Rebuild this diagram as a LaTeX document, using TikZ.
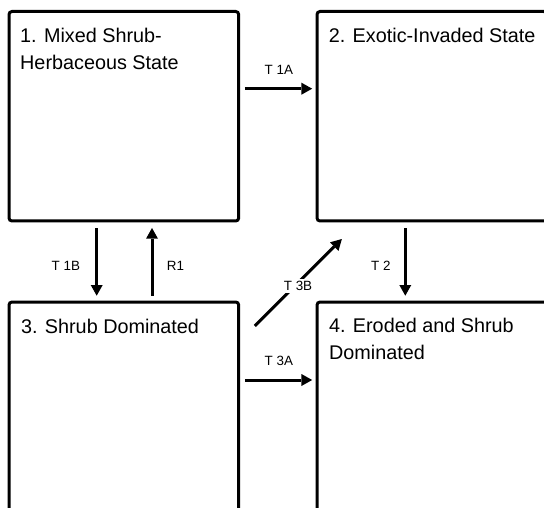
\documentclass[tikz,border=0pt]{standalone}
\usepackage{fontspec}
\setmainfont{Liberation Sans}
\usetikzlibrary{arrows.meta}
\begin{document}
\begin{tikzpicture}[x=1pt,y=-1pt,
  statebox/.style={draw, line width=3pt, rounded corners=3pt, minimum width=229.7pt, minimum height=209.5pt, inner sep=0pt},
  title/.style={anchor=base west, align=left, inner sep=0pt, font=\fontsize{19.8}{26.6}\selectfont},
  lbl/.style={inner sep=0pt, font=\fontsize{13.4}{16}\selectfont},
  arr/.style={line width=3pt, -{Triangle[length=10.7pt,width=12pt,line width=0pt]}}]
\useasboundingbox (0,0) rectangle (544,508);
\begin{scope}
\clip (0,0) rectangle (544,508);
\node[statebox] (b1) at (123.85,116.25) {};
\node[statebox] (b2) at (431.85,116.25) {};
\node[statebox] (b3) at (123.85,406.75) {};
\node[statebox] (b4) at (431.85,406.75) {};
\end{scope}
\node[title] (t1) at (20,69.3) {1. Mixed Shrub-\\Herbaceous State};
\node[title] (t2) at (328.7,42.7) {2. Exotic-Invaded State};
\node[title] (t3) at (20.9,333) {3. Shrub Dominated};
\node[title] (t4) at (328.9,359.3) {4. Eroded and Shrub\\Dominated};
\coordinate (row1) at (0,88.7);
\coordinate (row2) at (0,380);
\coordinate (colA) at (96.7,0);
\coordinate (colB) at (152,0);
\coordinate (colC) at (405.3,0);
\draw[arr, shorten <=4.65pt, shorten >=3.35pt] (b1.east |- row1) -- (b2.west |- row1);
\draw[arr, shorten <=4.65pt, shorten >=3.35pt] (b3.east |- row2) -- (b4.west |- row2);
\draw[arr, shorten <=5.8pt, shorten >=4.8pt] (b1.south -| colA) -- (b3.north -| colA);
\draw[arr, shorten <=4.8pt, shorten >=5.5pt] (b3.north -| colB) -- (b1.south -| colB);
\draw[arr, shorten <=5.8pt, shorten >=4.8pt] (b2.south -| colC) -- (b4.north -| colC);
\draw[arr] ([shift={(14.65,25.5)}]b3.north east) -- ([shift={(26.35,16.5)}]b2.south west);
\node[lbl] (l1a) at (278.8,69.8) {T 1A};
\node[lbl] (l3a) at (278.8,360.8) {T 3A};
\node[lbl] (l1b) at (65.8,266) {T 1B};
\node[lbl] (lr1) at (175.5,266) {R1};
\node[lbl] (l2) at (380.8,266) {T 2};
\node[lbl, fill=white, inner sep=2.5pt] (l3b) at (298,286) {T 3B};
\end{tikzpicture}
\end{document}
